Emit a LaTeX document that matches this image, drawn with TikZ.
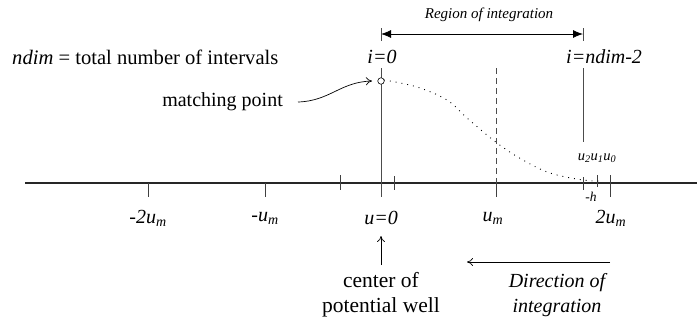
\documentclass[tikz,border=0pt]{standalone}
\usepackage{fontspec}
\setmainfont{Liberation Serif}
\usetikzlibrary{arrows.meta}
\begin{document}
\begin{tikzpicture}[x=1pt,y=-1pt,
  lbl/.style={inner sep=0pt,font=\fontsize{20}{22}\selectfont},
  ilbl/.style={inner sep=0pt,font=\fontsize{20}{22}\selectfont\itshape},
  tiny/.style={inner sep=0pt,font=\fontsize{14.5}{15}\selectfont\itshape},
  axisline/.style={line width=1.6pt,black!85},
  tick/.style={line width=0.8pt,black!75},
  vline/.style={line width=0.8pt,black!70},
  callout/.style={line width=0.7pt,-{To[length=6pt,width=8pt]}},
]
\useasboundingbox (0,0) rectangle (697,322);
% axis
\coordinate (axL) at (25,183);
\coordinate (axR) at (697,183);
\draw[axisline] (axL) -- (axR);
% ticks
\coordinate (t1a) at (148,183); \coordinate (t1b) at (148,197);
\coordinate (t2a) at (265,183); \coordinate (t2b) at (265,197);
\coordinate (t3a) at (340,175); \coordinate (t3b) at (340,190);
\coordinate (t4a) at (394,176); \coordinate (t4b) at (394,190);
\coordinate (t5a) at (496,183); \coordinate (t5b) at (496,197);
\coordinate (t6a) at (583,177); \coordinate (t6b) at (583,190);
\coordinate (t7a) at (597,175); \coordinate (t7b) at (597,187);
\coordinate (t8a) at (610,175); \coordinate (t8b) at (610,197);
\foreach \i in {1,...,8} \draw[tick] (t\i a) -- (t\i b);
% vertical lines
\coordinate (zTop) at (381,68); \coordinate (zBot) at (381,197);
\draw[vline] (zTop) -- (zBot);
\coordinate (mTop) at (496,68);
\draw[vline,dash pattern=on 6pt off 4pt] (mTop) -- (t5a);
\coordinate (nTop) at (583,68); \coordinate (nBot) at (583,142);
\draw[vline] (nTop) -- (nBot);
% dotted wave function
\draw[line width=0.9pt,dash pattern=on 0.9pt off 5pt]
  plot[smooth,tension=0.6] coordinates {(384,80)(417,87)(447,100)(467,118)(497,143)(523,160)(550,173)(583,180)(603,181)};
% matching point circle
\node[circle,draw,line width=0.6pt,fill=white,minimum size=6.5pt,inner sep=0pt] (mp) at (381,81) {};
% top labels
\node[ilbl,font=\fontsize{15}{17}\selectfont\itshape] (region) at (489,15) {Region of integration};
\coordinate (rL) at (381,34); \coordinate (rR) at (583,34);
\draw[line width=0.8pt,{Latex[length=10pt,width=8pt]}-{Latex[length=10pt,width=8pt]}] (rL) -- (rR);
\coordinate (bL1) at (381,28); \coordinate (bL2) at (381,41);
\coordinate (bR1) at (583,28); \coordinate (bR2) at (583,41);
\draw[vline] (bL1) -- (bL2);
\draw[vline] (bR1) -- (bR2);
\node[ilbl] (i0) at (382,57) {i=0};
\node[ilbl,anchor=west] (in) at (566,57) {i=ndim-2};
\node[lbl,anchor=west,font=\fontsize{20.6}{22}\selectfont] (ndim) at (12,57) {\textit{ndim} = total number of intervals};
\node[lbl,anchor=east] (match) at (283,102) {matching point};
\coordinate (mpA) at (298,102);
\coordinate (mpB) at (372,81);
\draw[callout] (mpA) .. controls (330,101) and (340,82) .. (mpB);
% axis labels
\node[ilbl] (l1) at (148,218) {-2u\textsubscript{m}};
\node[ilbl] (l2) at (265,218) {-u\textsubscript{m}};
\node[ilbl] (l3) at (381,218) {u=0};
\node[ilbl] (l4) at (493,218) {u\textsubscript{m}};
\node[ilbl] (l5) at (611,218) {2u\textsubscript{m}};
\node[tiny] (us) at (597,158) {u\textsubscript{2}u\textsubscript{1}u\textsubscript{0}};
\node[tiny,font=\fontsize{13.5}{14}\selectfont\itshape] (hh) at (591,197) {-h};
% bottom
\coordinate (upA) at (381,265); \coordinate (upB) at (381,236);
\draw[callout] (upA) -- (upB);
\node[lbl,align=center,font=\fontsize{21.5}{25}\selectfont] (center) at (381,295) {center of\\potential well};
\coordinate (dA) at (610,262); \coordinate (dB) at (467,262);
\draw[callout] (dA) -- (dB);
\node[ilbl,align=center,font=\fontsize{20}{25}\selectfont\itshape] (dir) at (557,295) {Direction of\\integration};
\end{tikzpicture}
\end{document}
